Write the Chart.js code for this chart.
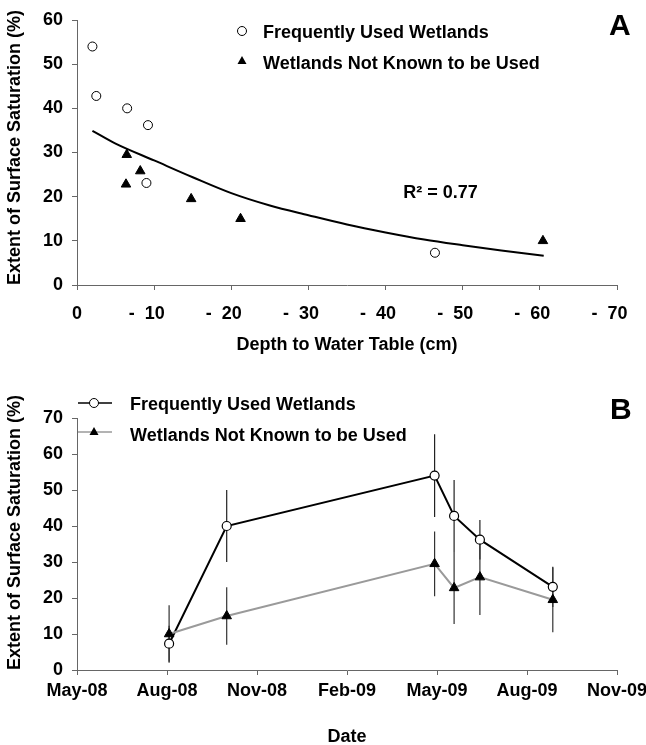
<!DOCTYPE html>
<html>
<head>
<meta charset="utf-8">
<script src="https://cdn.jsdelivr.net/npm/chart.js@4/dist/chart.umd.min.js"></script>
<style>
  html, body { margin: 0; padding: 0; background: #fff; }
  #wrap { position: relative; width: 646px; height: 745px; }
  #cA { position: absolute; left: 0; top: 0; }
  #cB { position: absolute; left: 0; top: 360px; }
</style>
</head>
<body>
<div id="wrap">
  <canvas id="cA" width="646" height="360"></canvas>
  <canvas id="cB" width="646" height="385"></canvas>
</div>
<script>
// ---------- Data ----------
const seriesNames = ['Frequently Used Wetlands', 'Wetlands Not Known to be Used'];

// Panel A: depth to water table (cm) vs extent of surface saturation (%)
const depthFrequent = [46.4, 6.5, 2.0, 2.5, 9.2, 9.0];
const satFrequent   = [7.3, 40.0, 54.0, 42.8, 36.2, 23.1];
const depthNotUsed  = [60.4, 21.2, 6.45, 6.35, 8.2, 14.8];
const satNotUsed    = [10.0, 15.0, 29.5, 22.8, 25.8, 19.5];
// trend curve
const fitDepth = [2, 5, 10, 15, 20, 25, 30, 35, 40, 45, 50, 55, 60.5];
const fitSat   = [34.9, 32.0, 28.2, 24.4, 20.8, 18.0, 15.8, 13.7, 11.9, 10.3, 9.0, 7.8, 6.6];
const rSquaredText = 'R\u00B2 = 0.77';
const depthTicks = [0, 10, 20, 30, 40, 50, 60, 70];

// Panel B: time series (months since 1 May 2008)
const sampleMonths = [3.07, 4.99, 11.92, 12.57, 13.43, 15.86];
const errFrequent  = [5.0, 10.0, 11.5, 10.0, 5.5, 5.6];
const errNotUsed   = [8.0, 8.0, 9.0, 10.0, 10.5, 9.0];
const dateTickLabels = ['May-08', 'Aug-08', 'Nov-08', 'Feb-09', 'May-09', 'Aug-09', 'Nov-09'];

// ---------- Style ----------
const FONT = 'Liberation Sans, Arial, Helvetica, sans-serif';
const AXIS = '#666666';
const GRAYLINE = '#9a9a9a';
const FS = 18;

function pts(xs, ys) { return xs.map((x, i) => ({ x: x, y: ys[i] })); }
function errPts(xs, ys, es) {
  const out = [];
  xs.forEach((x, i) => {
    out.push({ x: x, y: ys[i] - es[i] });
    out.push({ x: x, y: ys[i] + es[i] });
    out.push({ x: x, y: null });
  });
  return out;
}

function axisCommon() {
  return {
    grid: { display: true, drawOnChartArea: false, drawTicks: true, tickLength: 5, color: AXIS, lineWidth: 1 },
    border: { display: true, color: AXIS, width: 1 },
  };
}

const tickFont = { family: FONT, size: FS, weight: 'bold', lineHeight: 1 };
const titleFont = { family: FONT, size: FS, weight: 'bold', lineHeight: 1 };

function fixX(s) { s.height = 75; s.paddingLeft = 0; s.paddingRight = 0; }

// ---------- Panel A ----------
const plugA = {
  id: 'plugA',
  afterDraw(chart) {
    const ctx = chart.ctx;
    const xs = chart.scales.x, ys = chart.scales.y;
    ctx.save();
    ctx.fillStyle = '#000';
    ctx.font = 'bold 30px ' + FONT;
    ctx.textAlign = 'left';
    ctx.textBaseline = 'alphabetic';
    ctx.fillText('A', 609, 35);
    // legend
    ctx.font = 'bold ' + FS + 'px ' + FONT;
    ctx.textBaseline = 'middle';
    ctx.fillText(seriesNames[0], 263, 33);
    ctx.fillText(seriesNames[1], 263, 64);
    ctx.lineWidth = 1;
    ctx.strokeStyle = '#000';
    ctx.fillStyle = '#fff';
    ctx.beginPath(); ctx.arc(242, 31, 4.5, 0, Math.PI * 2); ctx.fill(); ctx.stroke();
    ctx.fillStyle = '#000';
    ctx.beginPath(); ctx.moveTo(242, 56); ctx.lineTo(246.5, 64); ctx.lineTo(237.5, 64); ctx.closePath(); ctx.fill();
    // R squared
    ctx.textBaseline = 'middle';
    ctx.fillText(rSquaredText, xs.getPixelForValue(42.3), ys.getPixelForValue(20.8));
    ctx.restore();
  }
};

new Chart(document.getElementById('cA'), {
  type: 'scatter',
  data: {
    datasets: [
      { label: seriesNames[1], data: pts(depthNotUsed, satNotUsed), pointStyle: 'triangle', radius: 5.5,
        backgroundColor: '#000', borderColor: '#000', borderWidth: 1 },
      { label: seriesNames[0], data: pts(depthFrequent, satFrequent), pointStyle: 'circle', radius: 4.5,
        backgroundColor: '#fff', borderColor: '#000', borderWidth: 1 },
      { type: 'line', label: 'fit', data: pts(fitDepth, fitSat), borderColor: '#000', borderWidth: 2,
        pointRadius: 0, tension: 0.4, cubicInterpolationMode: 'monotone', fill: false },
    ]
  },
  options: {
    responsive: false, animation: false,
    layout: { padding: { left: 0, right: 29, top: 20, bottom: 0 } },
    plugins: { legend: { display: false }, tooltip: { enabled: false } },
    scales: {
      x: Object.assign(axisCommon(), {
        type: 'linear', min: 0, max: 70,
        afterBuildTicks(s) { s.ticks = depthTicks.map(v => ({ value: v })); },
        afterFit: fixX,
        ticks: { color: '#000', font: tickFont, padding: 15, maxRotation: 0, autoSkip: false,
          callback: v => (v === 0 ? '0' : '-  ' + v + '   ') },
        title: { display: true, text: 'Depth to Water Table (cm)', color: '#000', font: titleFont, padding: { top: 0, bottom: 6 } }
      }),
      y: Object.assign(axisCommon(), {
        min: 0, max: 60,
        afterFit(s) { s.width = 77; },
        ticks: { stepSize: 10, color: '#000', font: tickFont, padding: 9 },
        title: { display: true, align: 'start', text: 'Extent of Surface Saturation (%)', color: '#000', font: titleFont, padding: { top: 6, bottom: 0 } }
      })
    }
  },
  plugins: [plugA]
});

// ---------- Panel B ----------
const plugB = {
  id: 'plugB',
  afterDraw(chart) {
    const ctx = chart.ctx;
    ctx.save();
    ctx.fillStyle = '#000';
    ctx.font = 'bold 30px ' + FONT;
    ctx.textAlign = 'left';
    ctx.textBaseline = 'alphabetic';
    ctx.fillText('B', 610, 59);
    // legend
    ctx.font = 'bold ' + FS + 'px ' + FONT;
    ctx.textBaseline = 'middle';
    ctx.fillText(seriesNames[0], 130, 45);
    ctx.fillText(seriesNames[1], 130, 76);
    ctx.lineWidth = 1.5;
    ctx.strokeStyle = '#000';
    ctx.beginPath(); ctx.moveTo(78, 43); ctx.lineTo(112, 43); ctx.stroke();
    ctx.fillStyle = '#fff'; ctx.lineWidth = 1;
    ctx.beginPath(); ctx.arc(94, 43, 4.5, 0, Math.PI * 2); ctx.fill(); ctx.stroke();
    ctx.strokeStyle = GRAYLINE; ctx.lineWidth = 1.5;
    ctx.beginPath(); ctx.moveTo(78, 72); ctx.lineTo(112, 72); ctx.stroke();
    ctx.fillStyle = '#000';
    ctx.beginPath(); ctx.moveTo(94, 67); ctx.lineTo(98.5, 75); ctx.lineTo(89.5, 75); ctx.closePath(); ctx.fill();
    ctx.restore();
  }
};

new Chart(document.getElementById('cB'), {
  type: 'scatter',
  data: {
    datasets: [
      { type: 'line', label: seriesNames[1], data: pts(sampleMonths, satNotUsed), pointStyle: 'triangle', pointRadius: 5.5,
        pointBackgroundColor: '#000', pointBorderColor: '#000', pointBorderWidth: 1,
        borderColor: GRAYLINE, borderWidth: 2, tension: 0, fill: false },
      { type: 'line', label: seriesNames[0], data: pts(sampleMonths, satFrequent), pointStyle: 'circle', pointRadius: 4.5,
        pointBackgroundColor: '#fff', pointBorderColor: '#000', pointBorderWidth: 1.2,
        borderColor: '#000', borderWidth: 2, tension: 0, fill: false },
      { type: 'line', label: 'errNotUsed', data: errPts(sampleMonths, satNotUsed, errNotUsed), borderColor: '#333',
        borderWidth: 1.2, pointRadius: 0, spanGaps: false, fill: false },
      { type: 'line', label: 'errFrequent', data: errPts(sampleMonths, satFrequent, errFrequent), borderColor: '#222',
        borderWidth: 1.2, pointRadius: 0, spanGaps: false, fill: false },
    ]
  },
  options: {
    responsive: false, animation: false,
    layout: { padding: { left: 0, right: 29, top: 58, bottom: 0 } },
    plugins: { legend: { display: false }, tooltip: { enabled: false } },
    scales: {
      x: Object.assign(axisCommon(), {
        type: 'linear', min: 0, max: 18,
        afterBuildTicks(s) { s.ticks = dateTickLabels.map((l, i) => ({ value: i * 3 })); },
        afterFit: fixX,
        ticks: { color: '#000', font: tickFont, padding: 7, maxRotation: 0, autoSkip: false,
          callback: (v, i) => dateTickLabels[i] },
        title: { display: true, text: 'Date', color: '#000', font: titleFont, padding: { top: 0, bottom: -1 } }
      }),
      y: Object.assign(axisCommon(), {
        min: 0, max: 70,
        afterFit(s) { s.width = 77; },
        ticks: { stepSize: 10, color: '#000', font: tickFont, padding: 9 },
        title: { display: true, align: 'start', text: 'Extent of Surface Saturation (%)', color: '#000', font: titleFont, padding: { top: 6, bottom: 0 } }
      })
    }
  },
  plugins: [plugB]
});
</script>
</body>
</html>
